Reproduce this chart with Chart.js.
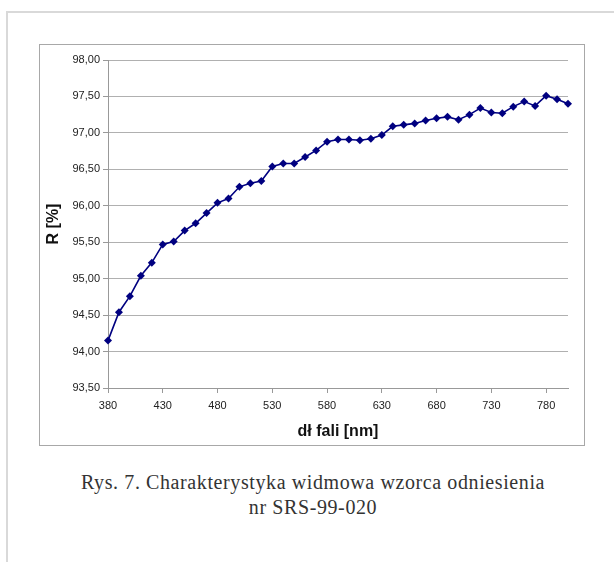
<!DOCTYPE html>
<html>
<head>
<meta charset="utf-8">
<script src="https://cdn.jsdelivr.net/npm/chart.js@4/dist/chart.umd.min.js"></script>
<style>
  body { margin: 0; background: #fff; width: 614px; height: 562px; position: relative; overflow: hidden; }
  #page { position: absolute; left: 6px; top: 11px; width: 700px; height: 700px;
          border-top: 2px solid #d9d9d9; border-left: 2px solid #d9d9d9; }
  #box { position: absolute; left: 39px; top: 44px; width: 544px; height: 400px; border: 1px solid #a8a8a8; }
  #caption { position: absolute; left: 0; top: 470px; width: 626px; text-align: center;
             font-family: "Liberation Serif", "DejaVu Serif", serif; font-size: 20px; letter-spacing: 0.6px;
             line-height: 25px; color: #333; }
</style>
</head>
<body>
<div id="page"></div>
<div id="box"><canvas id="realTimeChart" width="544" height="400"></canvas></div>
<div id="caption">Rys. 7. Charakterystyka widmowa wzorca odniesienia<br>nr SRS-99-020</div>
<script>
// dane
let wavelengths = [380, 390, 400, 410, 420, 430, 440, 450, 460, 470, 480, 490, 500, 510, 520,
  530, 540, 550, 560, 570, 580, 590, 600, 610, 620, 630, 640, 650, 660, 670, 680, 690, 700,
  710, 720, 730, 740, 750, 760, 770, 780, 790, 800];
let reflectance = [94.15, 94.54, 94.76, 95.04, 95.22, 95.47, 95.51, 95.66, 95.76, 95.90, 96.04,
  96.10, 96.26, 96.31, 96.34, 96.54, 96.58, 96.58, 96.67, 96.76, 96.88, 96.91, 96.91, 96.90,
  96.92, 96.97, 97.09, 97.11, 97.13, 97.17, 97.20, 97.22, 97.18, 97.25, 97.34, 97.28, 97.27,
  97.36, 97.43, 97.37, 97.51, 97.46, 97.40];
let xTicks = [380, 430, 480, 530, 580, 630, 680, 730, 780];
let yTicks = [93.5, 94, 94.5, 95, 95.5, 96, 96.5, 97, 97.5, 98];

const ctx = document.getElementById("realTimeChart").getContext("2d");
const font = "'Liberation Sans', Arial, sans-serif";

const chartData = {
  datasets: [
    {
      label: "R",
      data: wavelengths.map((w, i) => ({ x: w, y: reflectance[i] })),
      borderColor: "#000080",
      backgroundColor: "#000080",
      borderWidth: 1.6,
      pointStyle: "rectRot",
      pointRadius: 4,
      pointBorderWidth: 0,
      tension: 0,
      fill: false,
      clip: false,
    },
  ],
};

const chartConfig = {
  type: "line",
  data: chartData,
  options: {
    responsive: false,
    animation: false,
    layout: { padding: { top: 15, right: 16, left: 0, bottom: 0 } },
    plugins: { legend: { display: false }, tooltip: { enabled: false } },
    scales: {
      x: {
        type: "linear",
        min: 380,
        max: 800,
        afterBuildTicks: (scale) => { scale.ticks = xTicks.map(v => ({ value: v })); },
        afterFit: (scale) => { scale.height = 57; },
        grid: { drawOnChartArea: false, tickLength: 5, tickColor: "#999" },
        border: { color: "#999" },
        ticks: { color: "#222", padding: 6, maxRotation: 0, font: { family: font, size: 11 } },
        title: {
          display: true,
          text: "dł fali [nm]",
          color: "#111",
          font: { family: font, size: 16, weight: "bold" },
          padding: { top: 0, bottom: 4 },
        },
      },
      y: {
        min: 93.5,
        max: 98,
        afterBuildTicks: (scale) => { scale.ticks = yTicks.map(v => ({ value: v })); },
        afterFit: (scale) => { scale.width = 68; },
        grid: { color: "#b0b0b0", tickLength: 5, tickColor: "#999" },
        border: { color: "#999" },
        ticks: {
          color: "#222",
          padding: 3,
          font: { family: font, size: 11 },
          callback: (v) => v.toFixed(2).replace(".", ","),
        },
        title: {
          display: true,
          text: "R [%]",
          color: "#111",
          font: { family: font, size: 16, weight: "bold" },
          padding: { top: 4, bottom: 0 },
        },
      },
    },
  },
};

let chart = new Chart(ctx, chartConfig);
</script>
</body>
</html>
